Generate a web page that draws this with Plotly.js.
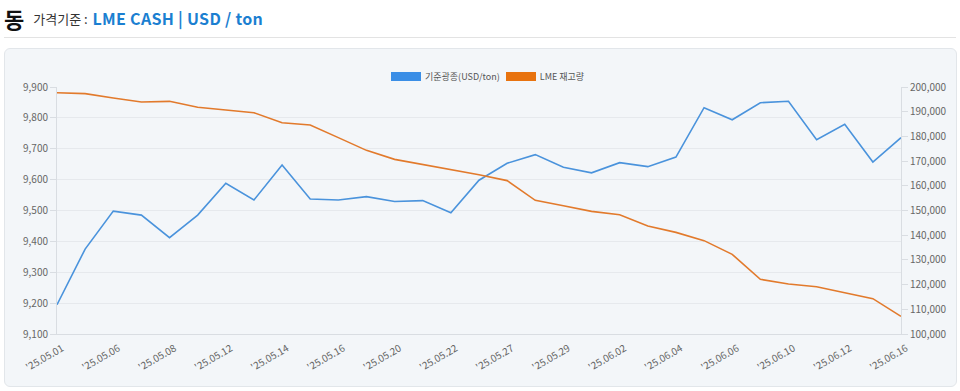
<!DOCTYPE html>
<html><head><meta charset="utf-8">
<script src="https://cdn.plot.ly/plotly-3.0.1.min.js"></script>
<style>
html,body{margin:0;padding:0;background:#fff;width:960px;height:391px;overflow:hidden;font-family:"Noto Sans CJK KR","Noto Sans",sans-serif;}
#hdr{position:absolute;left:4px;top:2px;height:30px;white-space:nowrap;}
#hdr .big{font-size:22px;font-weight:700;color:#111;vertical-align:middle;}
#hdr .lab{font-size:13px;color:#333;margin-left:9px;vertical-align:middle;}
#hdr .val{font-size:16px;font-weight:700;color:#1b7fd1;vertical-align:middle;letter-spacing:0.3px;margin-left:2px;}
#rule{position:absolute;left:4px;right:4px;top:37px;height:1px;background:#e3e3e3;}
#panel{position:absolute;left:4px;top:48px;width:953px;height:339px;background:#f3f6f9;border:1px solid #e2e6ea;border-radius:6px;box-sizing:border-box;}
#chart{position:absolute;left:0;top:0;width:960px;height:391px;}
#leg{position:absolute;top:69px;left:391px;font-size:9px;color:#555;white-space:nowrap;}
#leg span.sw{display:inline-block;width:30px;height:9px;vertical-align:middle;}
#leg span.t{vertical-align:middle;margin:0 6px 0 4px;}
</style></head>
<body>
<div id="hdr"><span class="big">동</span><span class="lab">가격기준 : </span><span class="val">LME CASH | USD / ton</span></div>
<div id="rule"></div>
<div id="panel"></div>
<div id="chart"></div>
<div id="leg"><span class="sw" style="background:#3a8ee6"></span><span class="t">기준광종(USD/ton)</span><span class="sw" style="background:#e8730f"></span><span class="t">LME 재고량</span></div>
<script>
const dates = ["'25.05.01","'25.05.02","'25.05.06","'25.05.07","'25.05.08","'25.05.09","'25.05.12","'25.05.13","'25.05.14","'25.05.15","'25.05.16","'25.05.19","'25.05.20","'25.05.21","'25.05.22","'25.05.23","'25.05.27","'25.05.28","'25.05.29","'25.05.30","'25.06.02","'25.06.03","'25.06.04","'25.06.05","'25.06.06","'25.06.09","'25.06.10","'25.06.11","'25.06.12","'25.06.13","'25.06.16"];
const price = [9195,9375,9498,9485,9412,9485,9588,9534,9647,9537,9534,9545,9529,9532,9493,9598,9653,9681,9640,9622,9655,9642,9673,9833,9794,9849,9854,9729,9779,9657,9736];
const stock = [197700,197300,195550,193900,194200,191780,190700,189600,185550,184600,179500,174350,170700,168700,166500,164500,162100,154100,151950,149650,148300,143700,141150,137800,132250,122150,120250,119150,116700,114300,107150];
const tickDates = dates.filter((d,i)=>i%2===0);
const priceName = "기준광종(USD/ton)";
const stockName = "LME 재고량";

const traces = [
 {x:dates,y:price,name:priceName,type:'scatter',mode:'lines',line:{color:'#4a93dc',width:1.6},yaxis:'y',hoverinfo:'x+y'},
 {x:dates,y:stock,name:stockName,type:'scatter',mode:'lines',line:{color:'#e27a2c',width:1.6},yaxis:'y2',hoverinfo:'x+y'}
];
const tickFont = {family:'"Noto Sans CJK KR","Noto Sans",sans-serif',size:10,color:'#666'};
const layout = {
 width:960,height:391,
 margin:{l:57,r:59,t:87,b:57,pad:0},
 paper_bgcolor:'rgba(0,0,0,0)',plot_bgcolor:'rgba(0,0,0,0)',
 showlegend:false,
 xaxis:{type:'category',range:[0,30],tickmode:'array',tickvals:tickDates,ticktext:tickDates,tickangle:-30,
   ticklabelstandoff:4,ticklabelshift:5,
   tickfont:tickFont,showgrid:false,showline:true,linecolor:'#d9dde2',linewidth:1,ticks:'',zeroline:false,fixedrange:true},
 yaxis:{range:[9100,9900],dtick:100,tickformat:',',tickfont:tickFont,showgrid:true,gridcolor:'#e6e9ed',gridwidth:1,
   showline:true,linecolor:'#d9dde2',ticks:'outside',ticklen:6,tickcolor:'#d9dde2',zeroline:false,fixedrange:true},
 yaxis2:{overlaying:'y',side:'right',range:[100000,200000],dtick:10000,tickformat:',',tickfont:tickFont,showgrid:false,
   showline:true,linecolor:'#d9dde2',ticks:'outside',ticklen:6,tickcolor:'#d9dde2',zeroline:false,fixedrange:true}
};
Plotly.newPlot('chart',traces,layout,{displayModeBar:false,staticPlot:true});
</script>
</body></html>
